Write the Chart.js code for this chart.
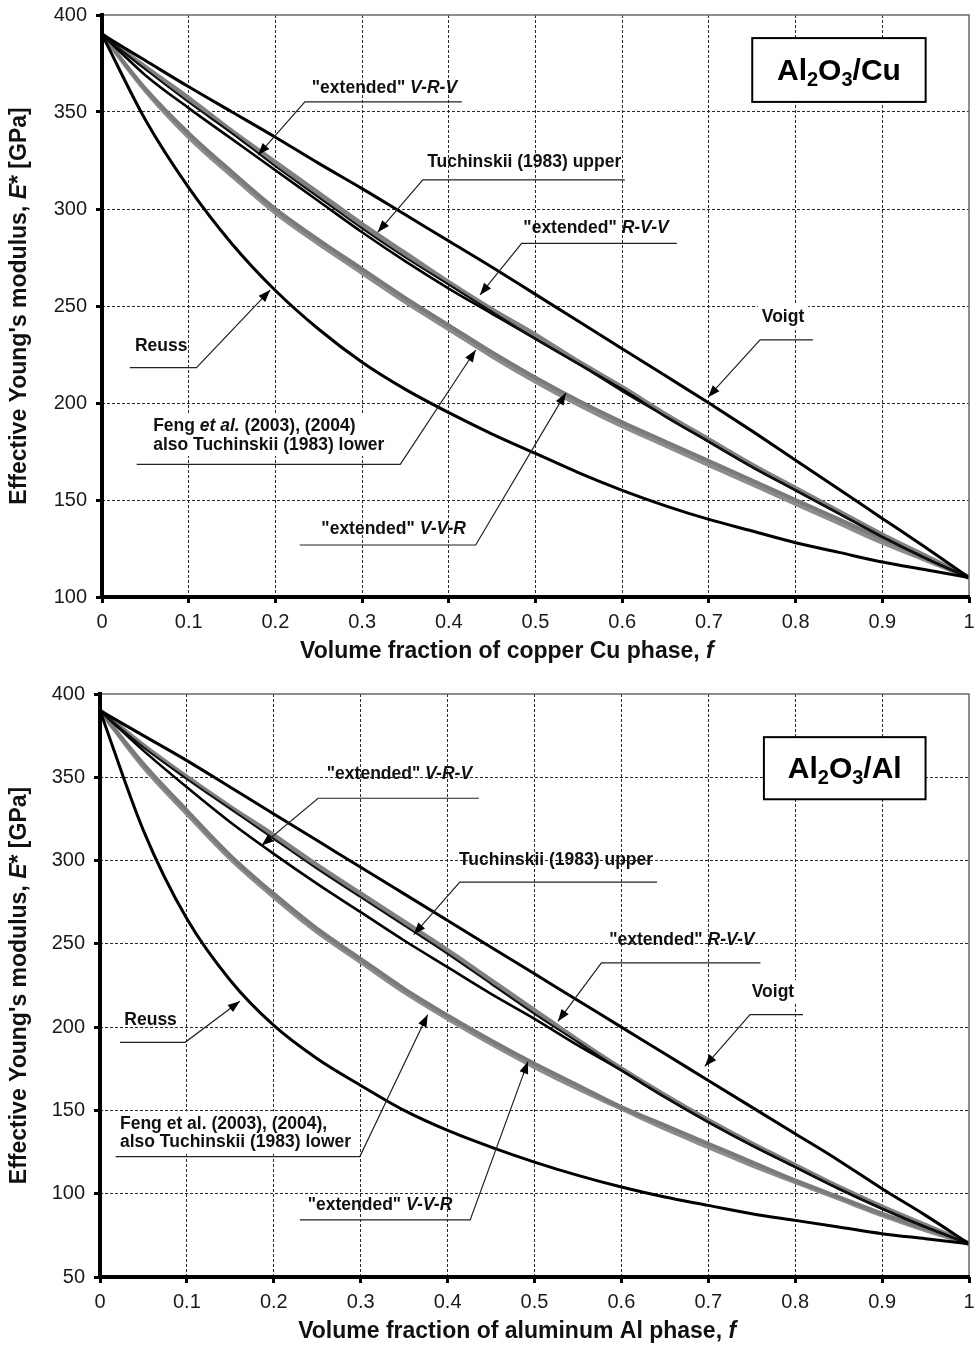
<!DOCTYPE html>
<html>
<head>
<meta charset="utf-8">
<script src="https://cdn.jsdelivr.net/npm/chart.js@4.4.1/dist/chart.umd.min.js"></script>
<style>
  html, body { margin: 0; padding: 0; background: #fff; }
  canvas { display: block; }
</style>
</head>
<body>
<canvas id="chartCu" width="976" height="676"></canvas>
<canvas id="chartAl" width="976" height="671"></canvas>
<script>
// volume fraction f of the metal phase
const fraction = [0, 0.05, 0.1, 0.15, 0.2, 0.25, 0.3, 0.35, 0.4, 0.45, 0.5, 0.55, 0.6, 0.65, 0.7, 0.75, 0.8, 0.85, 0.9, 0.95, 1];
const xTicks = [0, 0.1, 0.2, 0.3, 0.4, 0.5, 0.6, 0.7, 0.8, 0.9, 1];
const xTickLabels = ['0', '0.1', '0.2', '0.3', '0.4', '0.5', '0.6', '0.7', '0.8', '0.9', '1'];
const yTicksCu = [100, 150, 200, 250, 300, 350, 400];
const yTicksAl = [50, 100, 150, 200, 250, 300, 350, 400];

// Al2O3/Cu, E* in GPa
const voigtCu     = [390, 376.5, 363, 350, 337, 323.5, 310.5, 297, 283.5, 270, 256, 242, 228, 214, 200, 185.5, 170.5, 155.5, 140.5, 125.5, 110];
const tuchUpperCu = [390, 373, 357, 340, 324, 308, 292, 277, 262, 248, 235, 221, 208, 194, 181, 168, 156, 144, 132, 121, 110];
const rvvCu       = [390, 372, 355, 339, 322, 306, 290, 275, 261, 247, 233, 220, 206, 193, 180, 167, 155, 143, 131, 120, 110];
const vrvCu       = [390, 369, 352, 336, 320, 304, 288, 273, 259, 246, 233, 220, 207, 193, 180, 167, 155, 143, 131, 120, 110];
const fengCu      = [390, 362, 339, 319, 300, 284, 269, 254, 240, 226, 213, 201, 190, 180, 170, 160, 150, 140, 130, 120, 110];
const vvrCu       = [390, 361, 337, 317, 298, 282, 267, 252, 238, 224, 211, 199, 188, 178, 168, 158, 148, 138, 128, 119, 110];
const reussCu     = [390, 346, 311, 282, 258, 238, 221, 207, 195, 184, 174, 164, 155, 147, 140, 134, 128, 123, 118, 114, 110];

// Al2O3/Al, E* in GPa
const voigtAl     = [390, 375, 360, 344, 328, 312, 296, 280, 264, 248, 232, 216, 200, 184, 168, 152, 136, 120, 103, 87, 70];
const tuchUpperAl = [390, 369, 350, 332, 315, 297, 280, 263, 246, 228, 210, 192, 175, 159, 144, 130, 117, 104, 92, 81, 70];
const rvvAl       = [390, 368, 349, 331, 313, 295, 278, 261, 244, 226, 208, 191, 174, 158, 143, 129, 116, 103, 91, 80, 70];
const vrvAl       = [390, 366, 344, 323, 304, 286, 269, 252, 236, 220, 205, 189, 174, 158, 143, 129, 116, 103, 91, 80, 70];
const fengAl      = [390, 358, 330, 303, 280, 259, 241, 223, 207, 192, 178, 165, 152, 141, 130, 119, 108, 98, 88, 79, 70];
const vvrAl       = [390, 356, 328, 301, 278, 257, 239, 221, 205, 190, 176, 163, 151, 139, 128, 117, 107, 97, 87, 78, 70];
const reussAl     = [390, 318, 265, 228, 201, 181, 165, 150, 138, 128, 119, 111, 104, 98, 93, 88, 84, 80, 76, 73, 70];

const FAMILY = '"Liberation Sans", Arial, Helvetica, sans-serif';
const GRAY = '#808080';

function fontOf(size, italic) {
  return (italic ? 'italic ' : '') + 'bold ' + size + 'px ' + FAMILY;
}

function richWidth(ctx, parts, size) {
  let w = 0;
  parts.forEach(p => { ctx.font = fontOf(size, p[1]); w += ctx.measureText(p[0]).width; });
  return w;
}

function drawRich(ctx, parts, x, y, size) {
  parts.forEach(p => {
    ctx.font = fontOf(size, p[1]);
    ctx.fillText(p[0], x, y);
    x += ctx.measureText(p[0]).width;
  });
}

function series(vals) {
  return fraction.map((f, i) => ({ x: f, y: vals[i] }));
}

function curve(vals, color, width, order) {
  return {
    data: series(vals),
    borderColor: color,
    borderWidth: width,
    pointRadius: 0,
    fill: false,
    cubicInterpolationMode: 'monotone',
    order: order
  };
}

const notesCu = [
  { lines: [[['"extended" ', 0], ['V-R-V', 1]]], left: 0.242, base: [360], path: [[0.415, 355.2], [0.234, 355.2], [0.18, 327.8]] },
  { lines: [[['Tuchinskii (1983) upper', 0]]], left: 0.375, base: [321.6], path: [[0.603, 315], [0.37, 315], [0.318, 288]] },
  { lines: [[['"extended" ', 0], ['R-V-V', 1]]], left: 0.486, base: [287.6], path: [[0.663, 282.3], [0.484, 282.3], [0.436, 255.7]] },
  { lines: [[['Voigt', 0]]], left: 0.761, base: [241.8], path: [[0.82, 232.5], [0.759, 232.5], [0.699, 203]], bg: true },
  { lines: [[['Reuss', 0]]], left: 0.038, base: [226.8], path: [[0.032, 218.2], [0.109, 218.2], [0.194, 258.2]] },
  { lines: [[['Feng ', 0], ['et al.', 1], [' (2003), (2004)', 0]], [['also Tuchinskii (1983) lower', 0]]],
    left: 0.059, base: [185.6, 175.8], path: [[0.04, 168.4], [0.344, 168.4], [0.431, 227.3]], bg: true },
  { lines: [[['"extended" ', 0], ['V-V-R', 1]]], left: 0.253, base: [132.5], path: [[0.228, 126.8], [0.431, 126.8], [0.535, 205.2]] }
];

const notesAl = [
  { lines: [[['"extended" ', 0], ['V-R-V', 1]]], left: 0.261, base: [348.9], path: [[0.436, 337.4], [0.251, 337.4], [0.186, 309]] },
  { lines: [[['Tuchinskii (1983) upper', 0]]], left: 0.413, base: [297.1], path: [[0.641, 287.1], [0.414, 287.1], [0.361, 255.6]] },
  { lines: [[['"extended" ', 0], ['R-V-V', 1]]], left: 0.586, base: [249.6], path: [[0.76, 238.6], [0.577, 238.6], [0.527, 203.5]] },
  { lines: [[['Voigt', 0]]], left: 0.75, base: [217.8], path: [[0.809, 207.5], [0.748, 207.5], [0.696, 176.5]], bg: true },
  { lines: [[['Reuss', 0]]], left: 0.028, base: [201.5], path: [[0.023, 190.9], [0.098, 190.9], [0.161, 215.5]] },
  { lines: [[['Feng et al. (2003), (2004),', 0]], [['also Tuchinskii (1983) lower', 0]]],
    left: 0.023, base: [139, 128.2], path: [[0.018, 122.3], [0.299, 122.3], [0.377, 207.5]], bg: true },
  { lines: [[['"extended" ', 0], ['V-V-R', 1]]], left: 0.239, base: [90.3], path: [[0.23, 84.3], [0.426, 84.3], [0.4925, 179.3]] }
];

const NOTE_SIZE = 17.5;

const notePlugin = {
  id: 'notes',
  beforeDatasetsDraw(chart, args, opts) {
    const { ctx, scales: { x, y } } = chart;
    ctx.save();
    ctx.fillStyle = '#fff';
    opts.notes.filter(n => n.bg).forEach(n => {
      const w = Math.max(...n.lines.map(l => richWidth(ctx, l, NOTE_SIZE)));
      const x0 = x.getPixelForValue(n.left);
      const yTop = y.getPixelForValue(n.base[0]) - NOTE_SIZE;
      const yBot = y.getPixelForValue(n.base[n.base.length - 1]) + 6;
      ctx.fillRect(x0 - 4, yTop, w + 8, yBot - yTop);
    });
    ctx.restore();
  },
  afterDatasetsDraw(chart, args, opts) {
    const { ctx, chartArea: a, scales: { x, y } } = chart;
    ctx.save();

    // frame
    ctx.strokeStyle = '#6a6a6a';
    ctx.lineWidth = 1.5;
    ctx.beginPath();
    ctx.moveTo(a.left, a.top);
    ctx.lineTo(a.right, a.top);
    ctx.lineTo(a.right, a.bottom);
    ctx.stroke();
    ctx.strokeStyle = '#000';
    ctx.lineWidth = 4;
    ctx.beginPath();
    ctx.moveTo(a.left, a.top - 2);
    ctx.lineTo(a.left, a.bottom);
    ctx.lineTo(a.right + 1, a.bottom);
    ctx.stroke();

    // labels with leaders and arrows
    ctx.fillStyle = '#111';
    ctx.textBaseline = 'alphabetic';
    ctx.textAlign = 'left';
    opts.notes.forEach(n => {
      const x0 = x.getPixelForValue(n.left);
      n.lines.forEach((l, i) => drawRich(ctx, l, x0, y.getPixelForValue(n.base[i]), NOTE_SIZE));
      const pts = n.path.map(p => [x.getPixelForValue(p[0]), y.getPixelForValue(p[1])]);
      ctx.strokeStyle = '#222';
      ctx.lineWidth = 1.2;
      ctx.beginPath();
      pts.forEach((p, i) => i ? ctx.lineTo(p[0], p[1]) : ctx.moveTo(p[0], p[1]));
      ctx.stroke();
      const tip = pts[pts.length - 1];
      const prev = pts[pts.length - 2];
      const ang = Math.atan2(tip[1] - prev[1], tip[0] - prev[0]);
      ctx.fillStyle = '#000';
      ctx.beginPath();
      ctx.moveTo(tip[0], tip[1]);
      ctx.lineTo(tip[0] - 12 * Math.cos(ang) + 4.5 * Math.sin(ang), tip[1] - 12 * Math.sin(ang) - 4.5 * Math.cos(ang));
      ctx.lineTo(tip[0] - 12 * Math.cos(ang) - 4.5 * Math.sin(ang), tip[1] - 12 * Math.sin(ang) + 4.5 * Math.cos(ang));
      ctx.closePath();
      ctx.fill();
      ctx.fillStyle = '#111';
    });

    // material box
    const b = opts.box;
    const bx0 = x.getPixelForValue(b.from[0]), bx1 = x.getPixelForValue(b.to[0]);
    const by0 = y.getPixelForValue(b.from[1]), by1 = y.getPixelForValue(b.to[1]);
    ctx.fillStyle = '#fff';
    ctx.fillRect(bx0, by0, bx1 - bx0, by1 - by0);
    ctx.strokeStyle = '#000';
    ctx.lineWidth = 2;
    ctx.strokeRect(bx0, by0, bx1 - bx0, by1 - by0);
    let tw = 0;
    b.parts.forEach(p => { ctx.font = fontOf(p[1] ? 20 : 30, false); tw += ctx.measureText(p[0]).width; });
    let tx = (bx0 + bx1) / 2 - tw / 2;
    const ty = (by0 + by1) / 2 + 10;
    ctx.fillStyle = '#000';
    b.parts.forEach(p => {
      ctx.font = fontOf(p[1] ? 20 : 30, false);
      ctx.fillText(p[0], tx, p[1] ? ty + 6 : ty);
      tx += ctx.measureText(p[0]).width;
    });

    // axis titles
    ctx.fillStyle = '#111';
    ctx.textBaseline = 'middle';
    const xt = opts.xTitle;
    const xw = richWidth(ctx, xt, 23);
    drawRich(ctx, xt, x.getPixelForValue(opts.xTitleAt) - xw / 2, a.bottom + 55, 23);
    ctx.translate(20, (a.top + a.bottom) / 2);
    ctx.rotate(-Math.PI / 2);
    const yt = opts.yTitle;
    const yw = richWidth(ctx, yt, 23);
    drawRich(ctx, yt, -yw / 2, 0, 23);
    ctx.restore();
  }
};

function edgeClear(c) {
  const s = c.scale;
  return (c.tick && (c.tick.value === s.min || c.tick.value === s.max)) ? 'rgba(0,0,0,0)' : '#2a2a2a';
}

function makeChart(id, cfg) {
  new Chart(document.getElementById(id), {
    type: 'line',
    data: {
      datasets: [
        curve(cfg.voigt, '#000', 3, 0),
        curve(cfg.reuss, '#000', 3, 0),
        curve(cfg.rvv, '#111', 2, 1),
        curve(cfg.vrv, '#000', 2.6, 1),
        curve(cfg.tuchUpper, GRAY, 5, 2),
        curve(cfg.feng, '#7a7a7a', 4, 3),
        curve(cfg.vvr, '#8c8c8c', 4, 4)
      ]
    },
    options: {
      responsive: false,
      animation: false,
      events: [],
      layout: { padding: { top: cfg.padTop, right: 7, left: 0, bottom: 0 } },
      plugins: {
        legend: { display: false },
        tooltip: { enabled: false },
        notes: { notes: cfg.notes, box: cfg.box, xTitle: cfg.xTitle, xTitleAt: cfg.xTitleAt, yTitle: cfg.yTitle }
      },
      scales: {
        x: {
          type: 'linear',
          min: 0,
          max: 1,
          afterBuildTicks: s => { s.ticks = xTicks.map(v => ({ value: v })); },
          afterFit: s => { s.height = cfg.xHeight; s.paddingLeft = 0; s.paddingRight = 0; },
          ticks: {
            callback: (v, i) => xTickLabels[i],
            autoSkip: false,
            maxRotation: 0,
            padding: 7,
            color: '#1a1a1a',
            font: { family: FAMILY, size: 20 }
          },
          grid: { color: edgeClear, lineWidth: 1, tickLength: 6, tickWidth: 3, tickColor: '#000' },
          border: { display: false, dash: [3, 2] }
        },
        y: {
          type: 'linear',
          min: cfg.yTicks[0],
          max: cfg.yTicks[cfg.yTicks.length - 1],
          afterBuildTicks: s => { s.ticks = cfg.yTicks.map(v => ({ value: v })); },
          afterFit: s => { s.width = cfg.yWidth; s.paddingTop = 0; s.paddingBottom = 0; },
          ticks: {
            autoSkip: false,
            padding: 9,
            color: '#1a1a1a',
            font: { family: FAMILY, size: 20 }
          },
          grid: { color: edgeClear, lineWidth: 1, tickLength: 6, tickWidth: 3, tickColor: '#000' },
          border: { display: false, dash: [3, 2] }
        }
      }
    },
    plugins: [notePlugin]
  });
}

makeChart('chartCu', {
  voigt: voigtCu, reuss: reussCu, rvv: rvvCu, vrv: vrvCu, tuchUpper: tuchUpperCu, feng: fengCu, vvr: vvrCu,
  yTicks: yTicksCu, padTop: 15, xHeight: 79, yWidth: 102,
  notes: notesCu,
  box: { from: [0.75, 388.1], to: [0.95, 355.2], parts: [['Al', 0], ['2', 1], ['O', 0], ['3', 1], ['/Cu', 0]] },
  xTitle: [['Volume fraction of copper Cu phase, ', 0], ['f', 1]], xTitleAt: 0.467,
  yTitle: [["Effective Young's modulus, ", 0], ['E', 1], ['* [GPa]', 0]]
});

makeChart('chartAl', {
  voigt: voigtAl, reuss: reussAl, rvv: rvvAl, vrv: vrvAl, tuchUpper: tuchUpperAl, feng: fengAl, vvr: vvrAl,
  yTicks: yTicksAl, padTop: 18, xHeight: 70, yWidth: 100,
  notes: notesAl,
  box: { from: [0.764, 374.1], to: [0.95, 336.8], parts: [['Al', 0], ['2', 1], ['O', 0], ['3', 1], ['/Al', 0]] },
  xTitle: [['Volume fraction of aluminum Al phase, ', 0], ['f', 1]], xTitleAt: 0.48,
  yTitle: [["Effective Young's modulus, ", 0], ['E', 1], ['* [GPa]', 0]]
});
</script>
</body>
</html>
